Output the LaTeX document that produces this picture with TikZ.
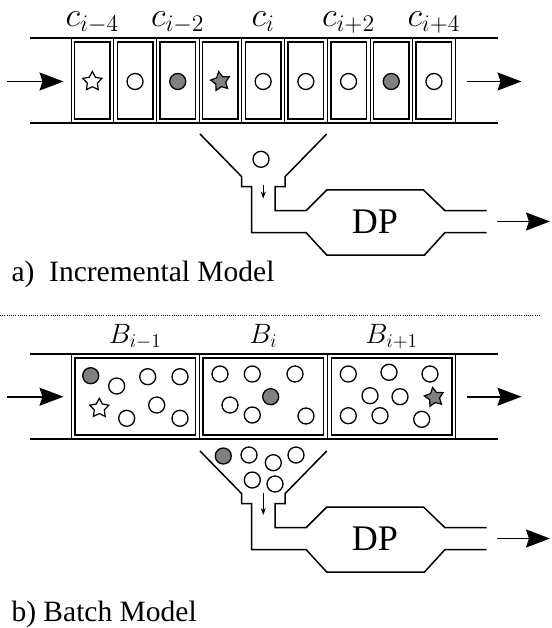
\documentclass[tikz,border=0pt]{standalone}
\usepackage{fontspec}
\setmainfont{Liberation Serif}
\usetikzlibrary{positioning}
\usetikzlibrary{shapes.geometric}
\usetikzlibrary{arrows.meta}

\begin{document}
\begin{tikzpicture}[x=1pt, y=-1pt,
    pipe/.style={line width=1.5pt},
    cellout/.style={rectangle, draw, line width=0.7pt, inner sep=0pt, minimum height=85pt},
    cellin/.style={rectangle, draw, line width=1.5pt, inner sep=0pt, minimum height=77pt},
    dot/.style={circle, draw, line width=1.3pt, inner sep=0pt, minimum size=16pt},
    wdot/.style={dot, fill=white},
    gdot/.style={dot, fill=gray},
    starmark/.style={star, star points=5, star point ratio=1.9, draw, line width=1.2pt, inner sep=0pt, minimum size=20pt},
    wstar/.style={starmark, fill=white},
    gstar/.style={starmark, fill=gray, rotate=10},
    flow/.style={line width=1.6pt, -{Stealth[length=24pt, width=18pt, inset=3pt]}},
    drop/.style={line width=0.8pt, -{Stealth[length=7pt, width=5pt]}},
    clabel/.style={anchor=base, inner sep=0pt, font=\fontsize{20}{20}\selectfont, scale=1.65},
    blabel/.style={anchor=base, inner sep=0pt, font=\fontsize{20}{20}\selectfont, scale=1.35},
    dptext/.style={font=\fontsize{36}{36}\selectfont},
    caption/.style={anchor=base west, font=\fontsize{29.5}{29.5}\selectfont},
    sep/.style={line width=0.8pt, dash pattern=on 1pt off 1.2pt}
]
    \useasboundingbox (0,0) rectangle (551,628);

    % Incremental: pipe of single cells
    \draw[pipe] (30,38) -- (498,38);
    \draw[pipe] (30,123) -- (498,123);
    \foreach \k/\s in {0/wstar,1/wdot,2/gdot,3/gstar,4/wdot,5/wdot,6/wdot,7/gdot,8/wdot} {
        \node[cellout, minimum width=42.7pt] (cell\k) at (92.35+42.7*\k,80.5) {};
        \node[cellin, minimum width=35.5pt] at (cell\k) {};
        \node[\s] (item\k) at (92.35+42.7*\k,81.5) {};
    }
    \foreach \k/\t in {0/-4,2/-2,4/,6/+2,8/+4}
        \node[clabel] (lab\k) at (92.35+42.7*\k,26.5) {$c_{i\t}$};

    \coordinate (inA) at (7,81.5);
    \coordinate (inA') at (63.5,81.5);
    \draw[flow] (inA) -- (inA');
    \coordinate (passA) at (466.5,81.5);
    \coordinate (passA') at (521.5,81.5);
    \draw[flow] (passA) -- (passA');

    % Batch: pipe of three blocks
    \draw[pipe] (30,354) -- (498,354);
    \draw[pipe] (30,439) -- (498,439);
    \foreach \k/\t in {0/-1,1/,2/+1} {
        \node[cellout, minimum width=128.2pt] (block\k) at (135.2+128.2*\k,396.5) {};
        \node[cellin, minimum width=120.5pt] at (block\k) {};
        \node[blabel] (blab\k) at (135.2+128.2*\k,343) {$B_{i\t}$};
    }
    \foreach \x/\y/\s [count=\n] in {90.7/375.7/gdot, 116.7/386/wdot, 147.7/376.7/wdot, 180/376.7/wdot,
        99.3/408.3/wstar, 156.7/405/wdot, 126.7/418.3/wdot, 180/418.3/wdot,
        220/374/wdot, 252.3/374/wdot, 295/374/wdot, 270.7/396.7/gdot,
        230/405/wdot, 252.3/415/wdot, 306/416/wdot,
        348.3/374/wdot, 389/372.3/wdot, 430/374/wdot, 370/395.7/wdot, 400/396.7/wdot,
        434.3/397.3/gstar, 348.3/415.7/wdot, 380/415.7/wdot, 421.7/419.3/wdot}
        \node[\s] (bit\n) at (\x,\y) {};

    \coordinate (inB) at (7,396.7);
    \coordinate (inB') at (63.5,396.7);
    \draw[flow] (inB) -- (inB');
    \coordinate (passB) at (466.5,396.7);
    \coordinate (passB') at (521.5,396.7);
    \draw[flow] (passB) -- (passB');

    % Hopper feeding the DP stage, once per model
    \foreach \dy/\nm in {0/A,317/B} {
        \begin{scope}[shift={(0,\dy)}]
            \draw[pipe] (200,134) -- (241.7,176.7) -- (241.7,186.7) -- (251.7,186.7) -- (251.7,232.5)
                -- (306,232.5) -- (326.7,255) -- (424.5,255) -- (445,232.5) -- (486.7,232.5);
            \draw[pipe] (326.7,134) -- (285,176.7) -- (285,186.7) -- (275,186.7) -- (275,210.7)
                -- (306,210.7) -- (326.7,190) -- (423.5,190) -- (445,210.7) -- (486.7,210.7);
            \node[dptext] (dp\nm) at (375,222) {DP};
            \coordinate (out\nm) at (496.7,221.5);
            \coordinate (end\nm) at (550,221.5);
            \draw[flow] (out\nm) -- (end\nm);
        \end{scope}
    }
    \node[wdot] (fallA) at (261,159.3) {};
    \coordinate (dropA) at (263.3,185);
    \coordinate (dropA') at (263.3,198.5);
    \draw[drop] (dropA) -- (dropA');

    \foreach \x/\y/\s [count=\n] in {223.3/456/gdot, 249/455/wdot, 273.3/462.7/wdot, 296/455/wdot, 252.3/480/wdot, 275/484/wdot}
        \node[\s] (fallB\n) at (\x,\y) {};
    \coordinate (dropB) at (263.3,493.3);
    \coordinate (dropB') at (263.3,515);
    \draw[drop] (dropB) -- (dropB');

    % Captions and separator
    \node[caption] (capA) at (8,281) {a)\ \ Incremental Model};
    \coordinate (sepL) at (0,315);
    \coordinate (sepR) at (540,315);
    \draw[sep] (sepL) -- (sepR);
    \node[caption] (capB) at (8,621) {b) Batch Model};
\end{tikzpicture}
\end{document}
